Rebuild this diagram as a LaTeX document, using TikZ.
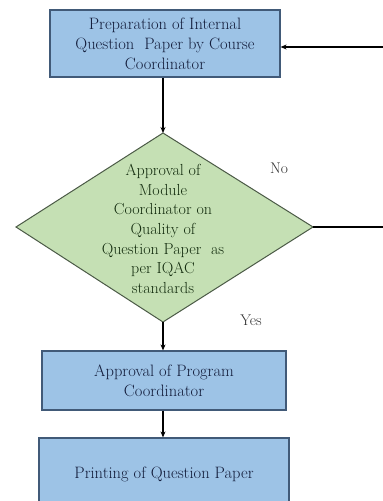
\documentclass[tikz,border=0pt]{standalone}
\usetikzlibrary{arrows.meta}
\definecolor{boxblue}{RGB}{157,195,230}
\definecolor{boxblueline}{RGB}{65,90,120}
\definecolor{textblue}{RGB}{20,30,60}
\definecolor{diagreen}{RGB}{197,224,180}
\definecolor{diagreenline}{RGB}{75,90,70}
\definecolor{textgreen}{RGB}{20,45,15}
\begin{document}
\begin{tikzpicture}[x=1pt,y=-1pt,
  procbox/.style={draw=boxblueline, line width=1.2pt, fill=boxblue, text=textblue,
    align=center, font=\fontsize{16.5}{20}\selectfont, inner sep=0pt},
  decision/.style={draw=diagreenline, line width=1pt, fill=diagreen},
  flow/.style={line width=1.6pt, -{Stealth[length=6pt,width=5pt]}},
  lbl/.style={font=\fontsize{15.5}{18}\selectfont, text=black!80}]
\clip (0,0) rectangle (383,501);
\fill[white] (0,0) rectangle (383,501);

% boxes
\node[procbox, minimum width=230pt, minimum height=67pt] (prep) at (165,43.5)
  {Preparation of Internal\\Question\ \ Paper by Course\\Coordinator};
\node[procbox, minimum width=244pt, minimum height=59pt] (prog) at (164,380.5)
  {Approval of Program\\Coordinator};
\node[procbox, minimum width=250pt, minimum height=72pt] (print) at (164,474)
  {Printing of Question Paper};

% decision diamond
\coordinate (dtop) at (163,133);
\coordinate (dleft) at (16,227);
\coordinate (dright) at (313,227);
\coordinate (dbot) at (163,322);
\draw[decision] (dtop) -- (dright) -- (dbot) -- (dleft) -- cycle;
\node[align=center, text=textgreen, font=\fontsize{16}{19.6}\selectfont] (dtext) at (163,229)
  {Approval of\\Module\\Coordinator on\\Quality of\\Question Paper\ \ as\\per IQAC\\standards};

% connectors (the return path runs just past the right edge)
\draw[flow] (prep.south -| dtop) -- (dtop);
\draw[flow] (dbot) -- (prog.north -| dbot);
\draw[flow] (prog.south -| dbot) -- (print.north -| dbot);
\coordinate (rcorner) at (390,227);
\coordinate (rtop) at (390,47);
\draw[flow] (dright) -- (rcorner) -- (rtop) -- (prep.east |- rtop);

% labels
\node[lbl] (no) at (279,168) {No};
\node[lbl] (yes) at (251,320) {Yes};
\end{tikzpicture}
\end{document}
